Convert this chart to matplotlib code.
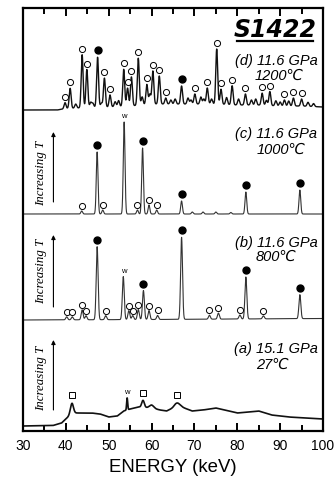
import numpy as np
import matplotlib
matplotlib.use("Agg")
import matplotlib.pyplot as plt

# ---------------- data (energies in keV, intensities in arbitrary units) ----------------
energy_ticks = [30, 40, 50, 60, 70, 80, 90, 100]

# (d) 11.6 GPa, 1200 C
d_bg_keV = [30, 38, 40, 45, 50, 55, 60, 65, 70, 75, 80, 85, 90, 95, 100]
d_bg_int = [0, 0, 1.5, 2.5, 3, 4, 6, 6, 6, 6, 5, 5, 4, 4, 3]
d_peak_keV = [39.8, 41.0, 43.8, 44.9, 47.4, 49.0, 50.3, 53.5, 54.4, 55.3, 56.9, 58.9,
              60.3, 61.8, 63.3, 67.0, 70.1, 73.0, 75.2, 76.2, 78.8, 81.9, 85.8, 87.6,
              91.0, 93.1, 95.0,
              42.3, 45.8, 46.3, 48.3, 51.5, 52.3, 57.8, 59.6, 64.5, 65.5, 68.5, 69.2,
              71.5, 72.2, 74.0, 77.5, 80.3, 83.3, 84.3, 86.8, 89.0, 90.0, 92.0, 96.5, 97.8]
d_peak_int = [6, 20, 53, 38, 50, 29, 12, 37, 18, 29, 47, 20,
              33, 28, 6, 18, 10, 16, 55, 15, 19, 11, 12, 14,
              6, 8, 7,
              4, 5, 4, 4, 5, 6, 8, 10, 4, 5, 6, 4,
              7, 5, 5, 7, 6, 5, 6, 5, 5, 4, 5, 4, 3]
d_open_keV = [39.8, 41.0, 43.8, 44.9, 49.0, 50.3, 53.5, 54.4, 55.3, 56.9, 58.9, 60.3,
              61.8, 63.3, 70.1, 73.0, 75.2, 76.2, 78.8, 81.9, 85.8, 87.6, 91.0, 93.1, 95.0]
d_filled_keV = [47.4, 67.0]

# (c) 11.6 GPa, 1000 C
c_bg_keV = [30, 100]
c_bg_int = [0, 0]
c_peak_keV = [43.7, 47.3, 48.6, 53.6, 56.7, 57.9, 59.4, 61.2, 67.0, 69.5, 72.0, 75.0, 78.5, 82.0, 94.6]
c_peak_int = [3, 62, 4, 92, 4, 66, 9, 4, 13, 2, 2, 2, 1.5, 22, 24]
c_open_keV = [43.7, 48.6, 56.7, 59.4, 61.2]
c_filled_keV = [47.3, 57.9, 67.0, 82.0, 94.6]
c_w_keV = 53.6

# (b) 11.6 GPa, 800 C
b_bg_keV = [30, 60, 100]
b_bg_int = [0, 0.5, 1.5]
b_peak_keV = [40.2, 41.5, 43.8, 44.7, 47.3, 49.3, 53.4, 54.7, 55.6, 56.9, 58.1, 59.4,
              61.4, 67.0, 73.5, 75.6, 80.6, 82.0, 86.1, 94.6]
b_peak_int = [3, 3, 10, 4, 73, 4, 43, 9, 4, 10, 29, 9,
              4, 82, 4, 6, 4, 42, 3, 24]
b_open_keV = [40.2, 41.5, 43.8, 44.7, 49.3, 54.7, 55.6, 56.9, 59.4, 61.4, 73.5, 75.6, 80.6, 86.1]
b_filled_keV = [47.3, 58.1, 67.0, 82.0, 94.6]
b_w_keV = 53.4

# (a) 15.1 GPa, 27 C
a_bg_keV = [30, 37, 39, 40.5, 41.5, 43, 46, 48, 50, 52, 53.5, 55, 57, 60, 62, 63.5,
            65.5, 67, 69.5, 72, 75, 78, 80, 85, 88, 92, 96, 100]
a_bg_int = [0, 0.5, 3, 9, 13, 13, 13, 12, 9, 10, 15, 17, 19, 18, 16, 15,
            19, 19, 15, 16, 18, 15, 13, 15, 11, 9, 8, 7]
a_peak_keV = [41.4, 54.3, 58.0, 60.0, 66.0]
a_peak_int = [10, 12, 7, 3, 4]
a_square_keV = [41.4, 58.1, 65.9]
a_w_keV = 54.3

# ---------------- figure ----------------
E = np.linspace(30, 100, 2801)


def spectrum(bg_k, bg_i, pk, pi, sigma):
    y = np.interp(E, bg_k, bg_i)
    for k, h in zip(pk, pi):
        y = y + h * np.exp(-0.5 * ((E - k) / sigma) ** 2)
    return y


fig = plt.figure(figsize=(3.36, 4.83), dpi=100)
W, H = 336, 483
ax = fig.add_axes([23 / W, (H - 431) / H, 300 / W, 423 / H])
ax.set_xlim(30, 100)
ax.set_ylim(0, 423)

offsets = {"d": 321, "c": 217, "b": 111, "a": 5}

ys = {
    "d": spectrum(d_bg_keV, d_bg_int, d_peak_keV, d_peak_int, 0.22) + offsets["d"],
    "c": spectrum(c_bg_keV, c_bg_int, c_peak_keV, c_peak_int, 0.2) + offsets["c"],
    "b": spectrum(b_bg_keV, b_bg_int, b_peak_keV, b_peak_int, 0.22) + offsets["b"],
}
a_y = np.interp(E, a_bg_keV, a_bg_int)
for k, h, s in zip(a_peak_keV, a_peak_int, [0.35, 0.12, 0.3, 0.5, 0.6]):
    a_y = a_y + h * np.exp(-0.5 * ((E - k) / s) ** 2)
ys["a"] = a_y + offsets["a"]

ax.plot(E, ys["d"], color="#111111", lw=1.0)
ax.plot(E, ys["c"], color="#333333", lw=0.8)
ax.plot(E, ys["b"], color="#333333", lw=0.8)
ax.plot(E, ys["a"], color="#111111", lw=1.2)


def yat(key, k):
    return float(np.interp(k, E, ys[key]))


def open_marks(key, ks, off=6):
    ax.plot(ks, [yat(key, k) + off for k in ks], "o", ms=4.4, mfc="white",
            mec="black", mew=0.7, ls="none", zorder=5)


def filled_marks(key, ks, off=7):
    ax.plot(ks, [yat(key, k) + off for k in ks], "o", ms=5, mfc="black",
            mec="black", ls="none", zorder=5)


open_marks("d", d_open_keV)
filled_marks("d", d_filled_keV)
open_marks("c", c_open_keV, 5)
filled_marks("c", c_filled_keV)
open_marks("b", b_open_keV, 5)
filled_marks("b", b_filled_keV)
ax.plot(a_square_keV, [yat("a", k) + 8 for k in a_square_keV], "s", ms=4,
        mfc="white", mec="black", mew=0.7, ls="none", zorder=5)

for key, k in [("c", c_w_keV), ("b", b_w_keV), ("a", a_w_keV)]:
    ax.text(k, yat(key, k) + 2, "w", fontsize=5.5, ha="center", va="bottom",
            family="Liberation Sans")

# condition labels
lab_font = dict(family=["Liberation Sans", "DejaVu Sans"], style="italic", fontsize=10.5)
tmp_font = dict(family=["Liberation Sans", "DejaVu Sans"], style="italic", fontsize=10.5)
labels = [("(d) 11.6 GPa", "1200℃", 370, 355, 89.7),
          ("(c) 11.6 GPa", "1000℃", 297, 281, 90.1),
          ("(b) 11.6 GPa", "800℃", 188.5, 174, 89.0),
          ("(a) 15.1 GPa", "27℃", 82, 66, 88.3)]
for l1, l2, y1, y2, xc in labels:
    ax.text(98.7, y1, l1, ha="right", va="center", **lab_font)
    ax.text(xc, y2, l2, ha="center", va="center", **tmp_font)

# sample name with underline
ax.text(88.8, 401, "S1422", ha="center", va="center", fontsize=17,
        family="DejaVu Sans", weight="bold", style="italic")
ax.plot([79.9, 97.7], [390.3, 390.3], color="black", lw=1.6)

# Increasing T arrows
for ytxt, ybot, ytop in [(258, 229, 299), (160, 124, 196), (53, 21, 91)]:
    ax.annotate("", xy=(37.1, ytop), xytext=(37.1, ybot),
                arrowprops=dict(arrowstyle="-|>", lw=0.8, color="black",
                                mutation_scale=6, shrinkA=0, shrinkB=0))
    ax.text(34.3, ytxt, "Increasing T", rotation=90, ha="center", va="center",
            fontsize=9.3, family="Liberation Serif", style="italic")

# axes styling
ax.set_yticks([])
ax.set_xticks(energy_ticks)
ax.set_xticks([35, 45, 55, 65, 75, 85, 95], minor=True)
ax.tick_params(axis="x", which="both", direction="in", top=True, width=1.4)
ax.tick_params(axis="x", which="major", length=6, pad=6, labelsize=10)
ax.tick_params(axis="x", which="minor", length=4)
for lab in ax.get_xticklabels():
    lab.set_family("Liberation Sans")
for sp in ax.spines.values():
    sp.set_linewidth(1.6)
ax.set_xlabel("ENERGY (keV)", fontsize=13.4, family="Liberation Sans", labelpad=4)

fig.savefig("out.png", dpi=100)
